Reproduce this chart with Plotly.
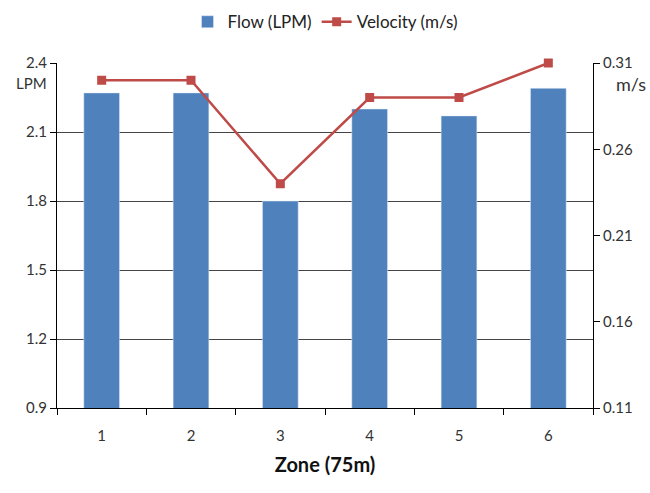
import plotly.graph_objects as go

zones = ["1", "2", "3", "4", "5", "6"]
flow_lpm = [2.27, 2.27, 1.80, 2.20, 2.17, 2.29]
velocity_ms = [0.300, 0.300, 0.240, 0.290, 0.290, 0.310]

bar_color = "#4F81BD"
line_color = "#BE4B48"
font_family = "Lato, 'Open Sans', sans-serif"

fig = go.Figure()
fig.add_trace(go.Bar(x=zones, y=flow_lpm, name="Flow (LPM)", marker_color=bar_color,
                     width=0.4, yaxis="y"))
fig.add_trace(go.Scatter(x=zones, y=velocity_ms, name="Velocity (m/s)", mode="lines+markers",
                         line=dict(color=line_color, width=2.5),
                         marker=dict(symbol="square", size=9, color=line_color),
                         cliponaxis=False, yaxis="y2"))

fig.update_layout(
    width=650, height=493,
    margin=dict(l=57, r=57, t=63, b=85, autoexpand=False),
    paper_bgcolor="white", plot_bgcolor="white",
    font=dict(family=font_family, size=15, color="#333333"),
    showlegend=True,
    legend=dict(orientation="h", x=0.5, xanchor="center", yref="container", y=0.955,
                yanchor="middle", font=dict(size=17, color="#222222"), traceorder="normal"),
    xaxis=dict(type="category", showline=True, linecolor="black", linewidth=1,
               ticks="outside", tickson="boundaries", ticklen=6, tickcolor="black",
               showgrid=False, tickfont=dict(size=15), ticklabelstandoff=14,
               title=dict(text="<b>Zone (75m)</b>", font=dict(size=20, color="#111111"), standoff=14)),
    yaxis=dict(range=[0.9, 2.4], dtick=0.3, tick0=0.9, tickformat=".1f",
               showline=True, linecolor="black", linewidth=1,
               showgrid=True, gridcolor="#444444", gridwidth=1,
               ticks="outside", ticklen=6, tickcolor="black", zeroline=False),
    yaxis2=dict(range=[0.11, 0.31], dtick=0.05, tick0=0.11, tickformat=".2f",
                overlaying="y", side="right",
                showline=True, linecolor="black", linewidth=1,
                showgrid=False, ticks="outside", ticklen=6, tickcolor="black", zeroline=False),
    annotations=[
        dict(text="LPM", xref="paper", yref="paper", x=-0.015, y=0.942, xanchor="right",
             yanchor="middle", showarrow=False, font=dict(size=15, color="#333333")),
        dict(text="m/s", xref="paper", yref="paper", x=1.04, y=0.94, xanchor="left",
             yanchor="middle", showarrow=False, font=dict(size=18, color="#333333")),
    ],
)

fig.write_html("out.html")
